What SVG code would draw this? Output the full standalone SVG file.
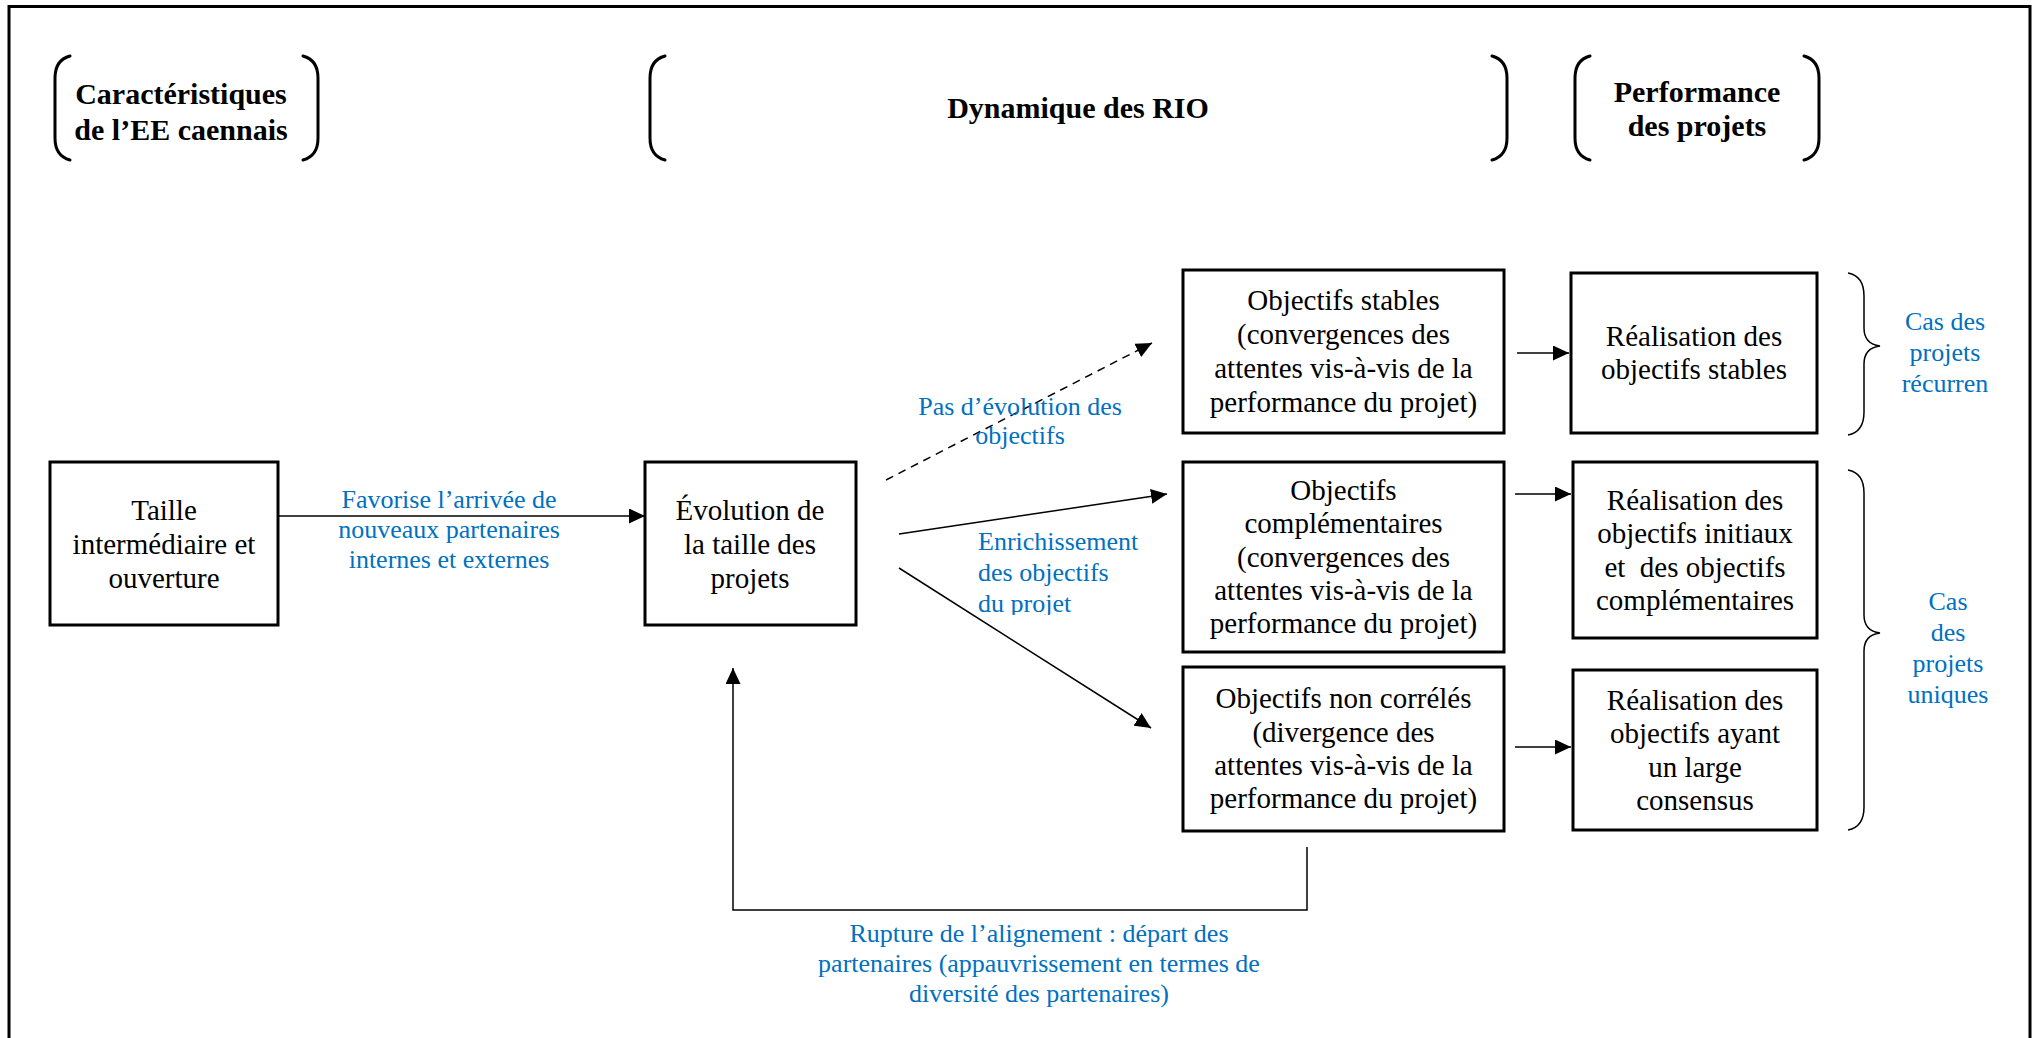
<svg xmlns="http://www.w3.org/2000/svg" width="2037" height="1038" viewBox="0 0 2037 1038">
<style>
.frame{fill:none;stroke:#000;stroke-width:3}
.box{fill:#fff;stroke:#000;stroke-width:3}
.brk{fill:none;stroke:#000;stroke-width:3;stroke-linecap:round}
.brace{fill:none;stroke:#000;stroke-width:1.5}
.hd{font-family:"Liberation Serif","Times New Roman",serif;font-weight:bold;font-size:30px;fill:#000;text-anchor:middle}
.t{font-family:"Liberation Serif","Times New Roman",serif;font-size:29px;fill:#000;text-anchor:middle}
.lb{font-family:"Liberation Serif","Times New Roman",serif;font-size:26px;fill:#0070C0;text-anchor:middle}
.lbl{font-family:"Liberation Serif","Times New Roman",serif;font-size:26px;fill:#0070C0;text-anchor:start}
.c{fill:none;stroke:#000;stroke-width:1.5}
.dash{stroke-dasharray:8 6}
</style>
<defs>
<marker id="ah" viewBox="0 0 16 15" refX="16" refY="7.5" markerWidth="16" markerHeight="15" markerUnits="userSpaceOnUse" orient="auto">
<path d="M0,0 L16,7.5 L0,15 z" fill="#000"/>
</marker>
<clipPath id="enrClip"><rect x="960" y="500" width="260" height="115"/></clipPath>
</defs>
<rect class="frame" x="9" y="6.5" width="2021" height="1100"/>
<g id="header-caracteristiques">
<path class="brk" d="M70,56 Q55,60 55,78 L55,138 Q55,156 70,160"/>
<path class="brk" d="M303,56 Q318,60 318,78 L318,138 Q318,156 303,160"/>
<text class="hd" x="181" y="104">Caractéristiques</text>
<text class="hd" x="181" y="140">de l’EE caennais</text>
</g>
<g id="header-dynamique">
<path class="brk" d="M665,56 Q650,60 650,78 L650,138 Q650,156 665,160"/>
<path class="brk" d="M1492,56 Q1507,60 1507,78 L1507,138 Q1507,156 1492,160"/>
<text class="hd" x="1078" y="118">Dynamique des RIO</text>
</g>
<g id="header-performance">
<path class="brk" d="M1590,56 Q1575,60 1575,78 L1575,138 Q1575,156 1590,160"/>
<path class="brk" d="M1804,56 Q1819,60 1819,78 L1819,138 Q1819,156 1804,160"/>
<text class="hd" x="1697" y="102">Performance</text>
<text class="hd" x="1697" y="136">des projets</text>
</g>
<g id="connectors">
<line class="c" x1="278" y1="516" x2="645" y2="516" marker-end="url(#ah)"/>
<line class="c dash" x1="886" y1="480" x2="1152" y2="343" marker-end="url(#ah)"/>
<line class="c" x1="899" y1="534" x2="1167" y2="494" marker-end="url(#ah)"/>
<line class="c" x1="899" y1="568" x2="1151" y2="728" marker-end="url(#ah)"/>
<line class="c" x1="1517" y1="353" x2="1569" y2="353" marker-end="url(#ah)"/>
<line class="c" x1="1515" y1="494" x2="1571" y2="494" marker-end="url(#ah)"/>
<line class="c" x1="1515" y1="747" x2="1571" y2="747" marker-end="url(#ah)"/>
<polyline class="c" points="1307,847 1307,910 733,910 733,668" marker-end="url(#ah)"/>
<text class="lb" x="449"><tspan x="449" y="508">Favorise l’arrivée de</tspan><tspan x="449" y="538">nouveaux partenaires</tspan><tspan x="449" y="568">internes et externes</tspan></text>
<text class="lb"><tspan x="1020" y="415">Pas d’évolution des</tspan><tspan x="1020" y="444">objectifs</tspan></text>
<text class="lbl" clip-path="url(#enrClip)"><tspan x="978" y="550">Enrichissement</tspan><tspan x="978" y="581">des objectifs</tspan><tspan x="978" y="612">du projet</tspan></text>
<text class="lb"><tspan x="1039" y="942">Rupture de l’alignement : départ des</tspan><tspan x="1039" y="972">partenaires (appauvrissement en termes de</tspan><tspan x="1039" y="1002">diversité des partenaires)</tspan></text>
</g>
<g id="taille">
<rect class="box" x="50" y="462" width="228" height="163"/>
<text class="t"><tspan x="164" y="520">Taille</tspan><tspan x="164" y="554">intermédiaire et</tspan><tspan x="164" y="588">ouverture</tspan></text>
</g>
<g id="evolution">
<rect class="box" x="645" y="462" width="211" height="163"/>
<text class="t"><tspan x="750" y="520">Évolution de</tspan><tspan x="750" y="554">la taille des</tspan><tspan x="750" y="588">projets</tspan></text>
</g>
<g id="obj-stables">
<rect class="box" x="1183" y="270" width="321" height="163"/>
<text class="t"><tspan x="1343.5" y="310">Objectifs stables</tspan><tspan x="1343.5" y="344">(convergences des</tspan><tspan x="1343.5" y="378">attentes vis-à-vis de la</tspan><tspan x="1343.5" y="412">performance du projet)</tspan></text>
</g>
<g id="obj-complementaires">
<rect class="box" x="1183" y="462" width="321" height="190"/>
<text class="t"><tspan x="1343.5" y="500">Objectifs</tspan><tspan x="1343.5" y="533">complémentaires</tspan><tspan x="1343.5" y="567">(convergences des</tspan><tspan x="1343.5" y="600">attentes vis-à-vis de la</tspan><tspan x="1343.5" y="633">performance du projet)</tspan></text>
</g>
<g id="obj-non-correles">
<rect class="box" x="1183" y="667" width="321" height="164"/>
<text class="t"><tspan x="1343.5" y="708">Objectifs non corrélés</tspan><tspan x="1343.5" y="742">(divergence des</tspan><tspan x="1343.5" y="775">attentes vis-à-vis de la</tspan><tspan x="1343.5" y="808">performance du projet)</tspan></text>
</g>
<g id="real-stables">
<rect class="box" x="1571" y="273" width="246" height="160"/>
<text class="t"><tspan x="1694" y="346">Réalisation des</tspan><tspan x="1694" y="379">objectifs stables</tspan></text>
</g>
<g id="real-initiaux">
<rect class="box" x="1573" y="462" width="244" height="176"/>
<text class="t"><tspan x="1695" y="510">Réalisation des</tspan><tspan x="1695" y="543">objectifs initiaux</tspan><tspan x="1695" y="577">et&#160; des objectifs</tspan><tspan x="1695" y="610">complémentaires</tspan></text>
</g>
<g id="real-consensus">
<rect class="box" x="1573" y="670" width="244" height="160"/>
<text class="t"><tspan x="1695" y="710">Réalisation des</tspan><tspan x="1695" y="743">objectifs ayant</tspan><tspan x="1695" y="777">un large</tspan><tspan x="1695" y="810">consensus</tspan></text>
</g>
<g id="cas-recurrents">
<path class="brace" d="M1848,273 Q1864,276 1864,296 L1864,328 Q1864,344 1880,346 Q1864,348 1864,364 L1864,412 Q1864,432 1848,435"/>
<text class="lb"><tspan x="1945" y="330">Cas des</tspan><tspan x="1945" y="361">projets</tspan><tspan x="1945" y="392">récurren</tspan></text>
</g>
<g id="cas-uniques">
<path class="brace" d="M1848,470 Q1864,473 1864,493 L1864,615 Q1864,631 1880,633 Q1864,635 1864,651 L1864,807 Q1864,827 1848,830"/>
<text class="lb"><tspan x="1948" y="610">Cas</tspan><tspan x="1948" y="641">des</tspan><tspan x="1948" y="672">projets</tspan><tspan x="1948" y="703">uniques</tspan></text>
</g>
</svg>
